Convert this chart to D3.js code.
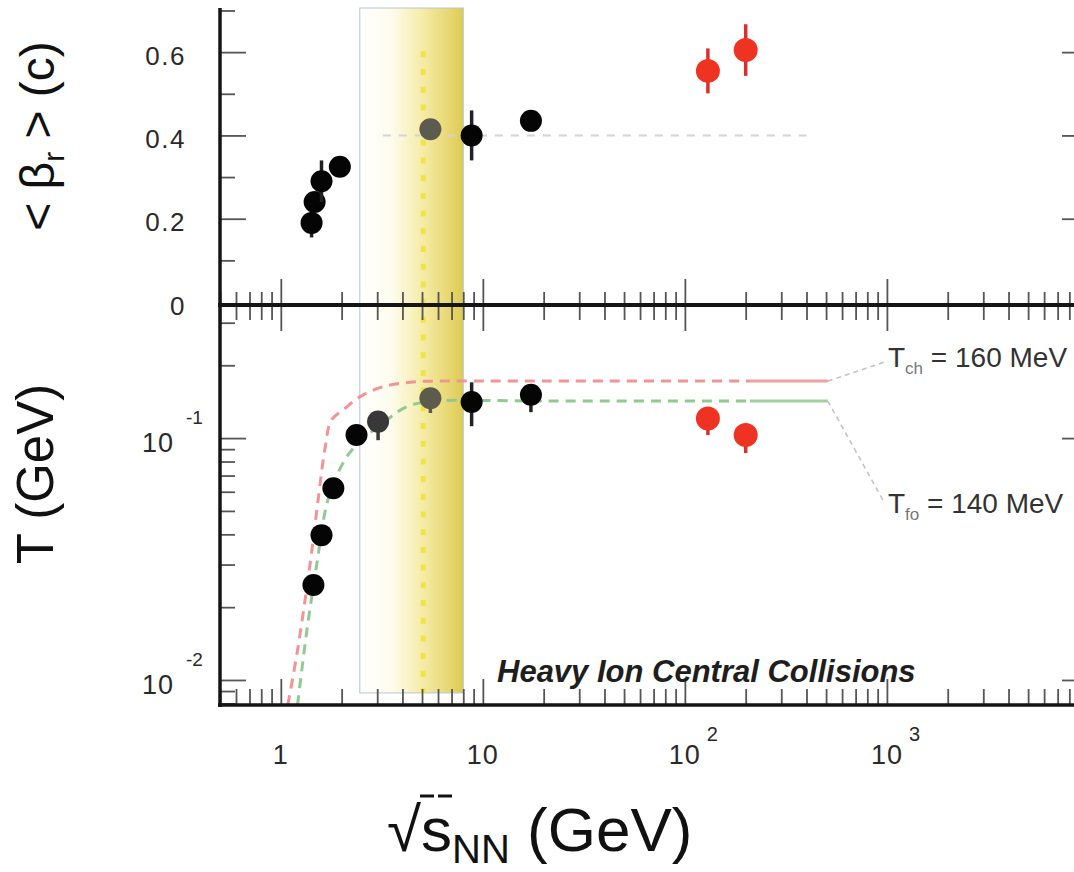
<!DOCTYPE html>
<html><head><meta charset="utf-8">
<script src="https://cdn.jsdelivr.net/npm/d3@7"></script>
<style>body{margin:0;background:#fff} svg{display:block}</style>
</head><body><svg id="c" width="1074" height="872"></svg>
<script>
// ---------------- DATA ----------------
// upper panel: mean radial flow velocity <beta_r> (c) vs sqrt(s_NN) (GeV)
const betaBlackX   = [1.42, 1.47, 1.59, 1.96, 8.8, 17.3];
const betaBlackY   = [0.19, 0.24, 0.29, 0.325, 0.40, 0.435];
const betaBlackErr = [0.035, 0.0, 0.05, 0.0, 0.06, 0.0];
const betaGrayX    = [5.5];
const betaGrayY    = [0.415];
const betaRedX     = [130, 200];
const betaRedY     = [0.555, 0.605];
const betaRedErr   = [0.054, 0.062];
const betaRefX     = [3.2, 400];
const betaRefY     = [0.40, 0.40];

// lower panel: temperature T (GeV)
const tBlackX  = [1.45, 1.59, 1.82, 2.37, 8.8, 17.3];
const tBlackY  = [0.0247, 0.0397, 0.062, 0.103, 0.141, 0.151];
const tBlackLo = [0.0247, 0.0397, 0.062, 0.103, 0.112, 0.128];
const tBlackHi = [0.0247, 0.0397, 0.062, 0.103, 0.170, 0.151];
const tDarkX   = [3.03];
const tDarkY   = [0.117];
const tDarkLo  = [0.098];
const tGrayX   = [5.5];
const tGrayY   = [0.146];
const tGrayLo  = [0.127];
const tRedX    = [130, 200];
const tRedY    = [0.1206, 0.103];
const tRedLo   = [0.103, 0.0867];

// chemical freeze-out curve (T_ch) and kinetic freeze-out curve (T_fo)
const tchX = [1.083, 1.21, 1.39, 1.53, 1.65, 1.78, 2.03, 2.46, 3.2, 4.69, 6.13, 20, 210];
const tchY = [0.00788, 0.0133, 0.0294, 0.0555, 0.0892, 0.1187, 0.1305, 0.148, 0.163, 0.171, 0.172, 0.172, 0.172];
const tchSolidX = [210, 510];
const tchSolidY = [0.172, 0.172];
const tfoX = [1.21, 1.34, 1.50, 1.71, 2.03, 2.32, 3.34, 4.19, 5.47, 20, 210];
const tfoY = [0.00788, 0.0156, 0.0294, 0.0555, 0.0788, 0.092, 0.1187, 0.1347, 0.1415, 0.1423, 0.1423];
const tfoSolidX = [210, 510];
const tfoSolidY = [0.1423, 0.1423];
const tchLeadX = [510, 977];
const tchLeadY = [0.172, 0.2065];
const tfoLeadX = [510, 955];
const tfoLeadY = [0.1423, 0.0555];

// highlighted energy band and marker line
const bandX = [2.46, 8.0];
const bandBottomT = 0.00884;
const markX = 5.07;
const markTopBeta = 0.602;

// tick labels
const betaTicks = [0, 0.2, 0.4, 0.6];
const betaTickLabels = ["0", "0.2", "0.4", "0.6"];
const tTicks = [0.1, 0.01];
const tTickExp = ["-1", "-2"];
const xTicks = [1, 10, 100, 1000];
const xTickBase = ["1", "10", "10", "10"];
const xTickExp = ["", "", "2", "3"];

// ---------------- SCALES ----------------
const svg = d3.select("#c");
const FONT = "'Liberation Sans', Arial, Helvetica, sans-serif";
const x  = d3.scaleLog().domain([0.5, 8630]).range([220, 1076]);
const yB = d3.scaleLinear().domain([0, 0.706]).range([302, 8]);
const yT = d3.scaleLog().domain([0.00788, 0.355]).range([705, 305]);
const zip = (a, b) => a.map((v, i) => [v, b[i]]);

// ---------------- BAND ----------------
const defs = svg.append("defs");
const g = defs.append("linearGradient").attr("id", "band").attr("x1", 0).attr("x2", 1).attr("y1", 0).attr("y2", 0);
[[0, "#ffffff"], [0.3, "#fefcee"], [0.6, "#f5eca8"], [0.85, "#e8d874"], [1, "#dccb52"]]
  .forEach(s => g.append("stop").attr("offset", s[0]).attr("stop-color", s[1]));
svg.append("rect")
  .attr("x", x(bandX[0])).attr("y", yB.range()[1])
  .attr("width", x(bandX[1]) - x(bandX[0]))
  .attr("height", yT(bandBottomT) - yB.range()[1])
  .attr("fill", "url(#band)").attr("stroke", "#b4c6cf").attr("stroke-width", 1);
svg.append("line")
  .attr("x1", x(markX)).attr("x2", x(markX))
  .attr("y1", yB(markTopBeta)).attr("y2", yT(bandBottomT))
  .attr("stroke", "#f0e34a").attr("stroke-width", 5).attr("stroke-dasharray", "6,11.7");

// reference dashed line in top panel
const lineB = d3.line().x(d => x(d[0])).y(d => yB(d[1]));
svg.append("path").attr("d", lineB(zip(betaRefX, betaRefY)))
  .attr("fill", "none").attr("stroke", "#d4d4d4").attr("stroke-width", 2).attr("stroke-dasharray", "8,8");

// ---------------- CURVES ----------------
const lineT = d3.line().x(d => x(d[0])).y(d => yT(d[1])).curve(d3.curveCatmullRom.alpha(0.5));
const lineTs = d3.line().x(d => x(d[0])).y(d => yT(d[1]));
svg.append("path").attr("d", lineT(zip(tchX, tchY)))
  .attr("fill", "none").attr("stroke", "#f09494").attr("stroke-width", 3).attr("stroke-dasharray", "10,7");
svg.append("path").attr("d", lineTs(zip(tchSolidX, tchSolidY)))
  .attr("fill", "none").attr("stroke", "#f2a0a0").attr("stroke-width", 3);
svg.append("path").attr("d", lineT(zip(tfoX, tfoY)))
  .attr("fill", "none").attr("stroke", "#92c992").attr("stroke-width", 3).attr("stroke-dasharray", "10,7");
svg.append("path").attr("d", lineTs(zip(tfoSolidX, tfoSolidY)))
  .attr("fill", "none").attr("stroke", "#9fd09f").attr("stroke-width", 3);
[[tchLeadX, tchLeadY], [tfoLeadX, tfoLeadY]].forEach(p => {
  svg.append("path").attr("d", lineTs(zip(p[0], p[1])))
    .attr("fill", "none").attr("stroke", "#c4c4c4").attr("stroke-width", 1.6).attr("stroke-dasharray", "5,4");
});

// ---------------- POINTS ----------------
function pts(xs, ys, lo, hi, ys2, fill, ecol, r) {
  xs.forEach((xv, i) => {
    const cx = x(xv);
    const l = lo[i], h = hi[i];
    if (Math.abs(ys2(l) - ys2(h)) > 0.5) {
      svg.append("line").attr("x1", cx).attr("x2", cx).attr("y1", ys2(l)).attr("y2", ys2(h))
        .attr("stroke", ecol).attr("stroke-width", 3.5);
    }
    svg.append("circle").attr("cx", cx).attr("cy", ys2(ys[i])).attr("r", r).attr("fill", fill);
  });
}
pts(betaBlackX, betaBlackY, betaBlackY.map((v, i) => v - betaBlackErr[i]), betaBlackY.map((v, i) => v + betaBlackErr[i]), yB, "#050505", "#222", 11);
pts(betaGrayX, betaGrayY, betaGrayY, betaGrayY, yB, "#5c5b4e", "#5c5b4e", 11);
pts(betaRedX, betaRedY, betaRedY.map((v, i) => v - betaRedErr[i]), betaRedY.map((v, i) => v + betaRedErr[i]), yB, "#ee3322", "#d8302a", 12);
pts(tBlackX, tBlackY, tBlackLo, tBlackHi, yT, "#050505", "#222", 11);
pts(tDarkX, tDarkY, tDarkLo, tDarkY, yT, "#383838", "#383838", 11);
pts(tGrayX, tGrayY, tGrayLo, tGrayY, yT, "#5c5b4e", "#5c5b4e", 11);
pts(tRedX, tRedY, tRedLo, tRedY, yT, "#ee3322", "#d8302a", 12);

// ---------------- AXES / TICKS ----------------
const xAll = [];
[0.1, 1, 10, 100, 1000].forEach(d => { for (let k = 1; k <= 9; k++) { const v = k * d; if (v >= 0.5 && v <= 8600) xAll.push(v); } });
const xMajor = xAll.filter(v => Math.abs(Math.log10(v) - Math.round(Math.log10(v))) < 1e-9);
const xMinor = xAll.filter(v => !xMajor.includes(v));
function styleAxis(sel) {
  sel.select(".domain").remove();
  sel.selectAll(".tick line").attr("stroke", "#555").attr("stroke-width", 1.8);
  sel.selectAll(".tick text").remove();
}
function xAxisAt(y, up, minorLen) {
  const A = up ? d3.axisTop : d3.axisBottom;
  svg.append("g").attr("transform", `translate(0,${y})`).call(A(x).tickValues(xMinor).tickSize(minorLen).tickFormat("")).call(styleAxis);
  svg.append("g").attr("transform", `translate(0,${y})`).call(A(x).tickValues(xMajor).tickSize(26).tickFormat("")).call(styleAxis);
}
xAxisAt(705, true, 16);
xAxisAt(305, true, 13);
xAxisAt(305, false, 15);

const bMinor = [0.1, 0.3, 0.5, 0.7];
svg.append("g").attr("transform", "translate(220,0)").call(d3.axisRight(yB).tickValues(betaTicks.filter(v => v > 0)).tickSize(26).tickFormat("")).call(styleAxis);
svg.append("g").attr("transform", "translate(220,0)").call(d3.axisRight(yB).tickValues(bMinor).tickSize(15).tickFormat("")).call(styleAxis);
svg.append("g").attr("transform", "translate(1074,0)").call(d3.axisLeft(yB).tickValues(betaTicks.filter(v => v > 0)).tickSize(12).tickFormat("")).call(styleAxis);

const tMinor = [];
[0.001, 0.01, 0.1].forEach(d => { for (let k = 2; k <= 9; k++) { const v = k * d; if (v > 0.00788 && v < 0.355) tMinor.push(v); } });
svg.append("g").attr("transform", "translate(220,0)").call(d3.axisRight(yT).tickValues(tTicks).tickSize(26).tickFormat("")).call(styleAxis);
svg.append("g").attr("transform", "translate(220,0)").call(d3.axisRight(yT).tickValues(tMinor).tickSize(15).tickFormat("")).call(styleAxis);
svg.append("g").attr("transform", "translate(1074,0)").call(d3.axisLeft(yT).tickValues(tTicks).tickSize(12).tickFormat("")).call(styleAxis);

// frame lines
svg.append("line").attr("x1", 220).attr("x2", 220).attr("y1", 8).attr("y2", 707).attr("stroke", "#151515").attr("stroke-width", 3.5);
svg.append("line").attr("x1", 218).attr("x2", 1074).attr("y1", yT.range()[1]).attr("y2", yT.range()[1]).attr("stroke", "#151515").attr("stroke-width", 4);
svg.append("line").attr("x1", 218).attr("x2", 1074).attr("y1", 705).attr("y2", 705).attr("stroke", "#151515").attr("stroke-width", 3.5);

// ---------------- TEXT ----------------
const tc = "#2a2a2a";
betaTicks.forEach((v, i) => {
  svg.append("text").attr("x", 186).attr("y", yB(v) + 12.5).attr("text-anchor", "end")
    .attr("font-family", FONT).attr("font-size", 26).attr("letter-spacing", 1.5).attr("fill", tc).text(betaTickLabels[i]);
});
tTicks.forEach((v, i) => {
  svg.append("text").attr("x", 174).attr("y", yT(v) + 14).attr("text-anchor", "end")
    .attr("font-family", FONT).attr("font-size", 27).attr("letter-spacing", 1).attr("fill", tc).text("10");
  svg.append("text").attr("x", 186).attr("y", yT(v) - 14)
    .attr("font-family", FONT).attr("font-size", 19).attr("fill", tc).text(tTickExp[i]);
});
xTicks.forEach((v, i) => {
  svg.append("text").attr("x", x(v)).attr("y", 764).attr("text-anchor", "middle")
    .attr("font-family", FONT).attr("font-size", 27).attr("letter-spacing", 1).attr("fill", tc).text(xTickBase[i]);
  if (xTickExp[i]) svg.append("text").attr("x", x(v) + 22).attr("y", 741).attr("font-family", FONT)
    .attr("font-size", 20).attr("fill", tc).text(xTickExp[i]);
});

// axis titles
const yt1 = svg.append("text").attr("transform", "translate(54,136) rotate(-90)").attr("text-anchor", "middle")
  .attr("font-family", FONT).attr("font-size", 48).attr("fill", "#111");
yt1.append("tspan").text("< β");
yt1.append("tspan").attr("font-size", 30).attr("dy", 10).text("r");
yt1.append("tspan").attr("dy", -10).text(" > (c)");
svg.append("text").attr("transform", "translate(53,474) rotate(-90)").attr("text-anchor", "middle")
  .attr("font-family", FONT).attr("font-size", 51).attr("fill", "#111").text("T (GeV)");

const xt = svg.append("text").attr("x", 387).attr("y", 851).attr("font-family", FONT).attr("font-size", 62).attr("fill", "#111");
xt.append("tspan").text("√s");
xt.append("tspan").attr("font-size", 40).attr("dy", 12).text("NN");
xt.append("tspan").attr("dy", -12).text(" (GeV)");
const node = xt.node();
const s0 = node.getStartPositionOfChar(1).x, s1 = node.getEndPositionOfChar(1).x;
svg.append("line").attr("x1", s0 - 1).attr("x2", s1 + 1).attr("y1", 796).attr("y2", 796).attr("stroke", "#111").attr("stroke-width", 3).attr("stroke-dasharray", "14,4");

// annotation labels
function tlabel(xp, yp, sub, rest) {
  const t = svg.append("text").attr("x", xp).attr("y", yp).attr("font-family", FONT).attr("font-size", 28).attr("fill", "#333");
  t.append("tspan").text("T");
  t.append("tspan").attr("font-size", 17).attr("dy", 7).attr("fill", "#777").text(sub);
  t.append("tspan").attr("dy", -7).text(rest);
}
tlabel(888, 367, "ch", " = 160 MeV");
tlabel(888, 513, "fo", " = 140 MeV");

svg.append("text").attr("x", 497).attr("y", 682).attr("font-family", FONT).attr("font-size", 31)
  .attr("font-weight", "bold").attr("font-style", "italic").attr("fill", "#1e1e1e").text("Heavy Ion Central Collisions");
</script></body></html>
